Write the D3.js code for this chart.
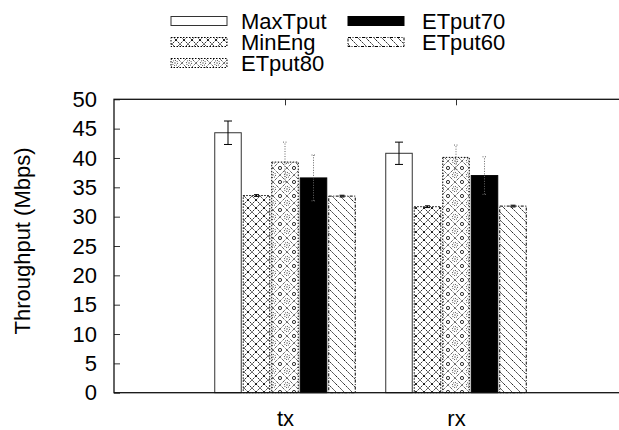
<!DOCTYPE html>
<html>
<head>
<meta charset="utf-8">
<script src="https://cdn.jsdelivr.net/npm/d3@7"></script>
<style>
  html, body { margin: 0; padding: 0; background: #fff; }
  svg { display: block; font-family: "Liberation Sans", Arial, sans-serif; }
</style>
</head>
<body>
<svg id="chart" width="619" height="430"></svg>
<script>
// Throughput per direction, one value per configuration
const categories = ["tx", "rx"];
const seriesNames = ["MaxTput", "MinEng", "ETput80", "ETput70", "ETput60"];
const maxTput = [44.3, 40.8];
const minEng  = [33.6, 31.7];
const etput80 = [39.3, 40.1];
const etput70 = [36.6, 37.0];
const etput60 = [33.5, 31.8];
// standard deviations (error bars)
const maxTputErr = [2.0, 1.9];
const minEngErr  = [0.15, 0.15];
const etput80Err = [3.4, 2.1];
const etput70Err = [3.9, 3.2];
const etput60Err = [0.15, 0.15];
const yTicks = [0, 5, 10, 15, 20, 25, 30, 35, 40, 45, 50];

const values = [maxTput, minEng, etput80, etput70, etput60];
const errors = [maxTputErr, minEngErr, etput80Err, etput70Err, etput60Err];

const svg = d3.select("#chart");
const plotLeft = 114, plotRight = 627, plotTop = 99.3, plotBottom = 392.7;
const fontSize = 22;

const x = d3.scaleLinear().domain([0, 3]).range([plotLeft, plotRight]);
const y = d3.scaleLinear().domain([0, 50]).range([plotBottom, plotTop]);

// ---- fill patterns ----
const defs = svg.append("defs");

// diamond crosshatch
const pCross = defs.append("pattern").attr("id", "pat-cross")
  .attr("patternUnits", "userSpaceOnUse").attr("width", 8).attr("height", 8);
pCross.append("rect").attr("width", 8).attr("height", 8).attr("fill", "#fff");
pCross.append("path").attr("d", "M0,0L8,8M8,0L0,8")
  .attr("stroke", "#000").attr("stroke-width", 0.9).attr("stroke-dasharray", "1.6,0.9");

// dotted diamonds with rings
const pOrn = defs.append("pattern").attr("id", "pat-orn")
  .attr("patternUnits", "userSpaceOnUse").attr("width", 14).attr("height", 14);
pOrn.append("rect").attr("width", 14).attr("height", 14).attr("fill", "#fff");
pOrn.append("path").attr("d", "M7,0L14,7L7,14L0,7Z")
  .attr("fill", "none").attr("stroke", "#000").attr("stroke-width", 0.9).attr("stroke-dasharray", "1,1");
pOrn.append("circle").attr("cx", 7).attr("cy", 7).attr("r", 2.6)
  .attr("fill", "none").attr("stroke", "#000").attr("stroke-width", 0.8).attr("stroke-dasharray", "1,1");
pOrn.append("rect").attr("x", 6.5).attr("y", 6.5).attr("width", 1).attr("height", 1).attr("fill", "#000");
[[0, 0], [14, 0], [0, 14], [14, 14]].forEach(([cx, cy]) => {
  pOrn.append("circle").attr("cx", cx).attr("cy", cy).attr("r", 1.6)
    .attr("fill", "none").attr("stroke", "#000").attr("stroke-width", 0.8);
});

// backslash diagonal lines
const pDiag = defs.append("pattern").attr("id", "pat-diag")
  .attr("patternUnits", "userSpaceOnUse").attr("width", 8).attr("height", 8);
pDiag.append("rect").attr("width", 8).attr("height", 8).attr("fill", "#fff");
pDiag.append("path").attr("d", "M0,0L8,8M-4,4L0,8M4,-4L8,0")
  .attr("stroke", "#222").attr("stroke-width", 1).attr("stroke-dasharray", "2,1");

const styles = [
  { fill: "#fff", stroke: "#333", dash: null },
  { fill: "url(#pat-cross)", stroke: "#000", dash: "1.5,1.5" },
  { fill: "url(#pat-orn)", stroke: "#000", dash: "1.5,1.5" },
  { fill: "#000", stroke: "#000", dash: null },
  { fill: "url(#pat-diag)", stroke: "#000", dash: "3,1.5,1,1.5" }
];
const errStyles = [
  { stroke: "#000", dash: null, cap: 4 },
  { stroke: "#000", dash: null, cap: 2.5 },
  { stroke: "#666", dash: "1,1.5", cap: 2 },
  { stroke: "#666", dash: "1,1.5", cap: 2 },
  { stroke: "#000", dash: null, cap: 2.5 }
];

// ---- axes ----
const yAxis = d3.axisLeft(y).tickValues(yTicks).tickSize(-6).tickPadding(17);
const gy = svg.append("g").attr("transform", `translate(${plotLeft},0)`).call(yAxis);
gy.select(".domain").remove();
gy.selectAll("line").attr("stroke", "#333");
gy.selectAll("text").attr("font-size", fontSize).attr("fill", "#000")
  .attr("font-family", "Liberation Sans, Arial, sans-serif");

const xAxis = d3.axisBottom(x).tickValues([1, 2]).tickFormat((d, i) => categories[i])
  .tickSize(-6).tickPadding(18);
const gx = svg.append("g").attr("transform", `translate(0,${plotBottom})`).call(xAxis);
gx.select(".domain").remove();
gx.selectAll("line").attr("stroke", "#333");
gx.selectAll("text").attr("font-size", fontSize).attr("fill", "#000")
  .attr("font-family", "Liberation Sans, Arial, sans-serif");

// mirrored ticks on top
const xTop = d3.axisTop(x).tickValues([1, 2]).tickSize(-6).tickFormat("");
const gt = svg.append("g").attr("transform", `translate(0,${plotTop})`).call(xTop);
gt.select(".domain").remove();
gt.selectAll("line").attr("stroke", "#333");

// ---- bars ----
const slot = 1 / 6;
const barW = 0.155;
const barsG = svg.append("g");
seriesNames.forEach((name, s) => {
  categories.forEach((c, i) => {
    const cx = (i + 1) + (s - 2) * slot;
    const x0 = x(cx - barW / 2), x1 = x(cx + barW / 2);
    const st = styles[s];
    barsG.append("rect")
      .attr("x", x0).attr("y", y(values[s][i]))
      .attr("width", x1 - x0).attr("height", y(0) - y(values[s][i]))
      .attr("fill", st.fill).attr("stroke", st.stroke).attr("stroke-width", 1)
      .attr("stroke-dasharray", st.dash);
  });
});

// ---- error bars ----
seriesNames.forEach((name, s) => {
  categories.forEach((c, i) => {
    const px = x((i + 1) + (s - 2) * slot);
    const v = values[s][i], e = errors[s][i];
    const es = errStyles[s];
    const g = svg.append("g").attr("stroke", es.stroke).attr("stroke-width", 1)
      .attr("stroke-dasharray", es.dash);
    g.append("line").attr("x1", px).attr("x2", px).attr("y1", y(v - e)).attr("y2", y(v + e));
    g.append("line").attr("x1", px - es.cap).attr("x2", px + es.cap).attr("y1", y(v + e)).attr("y2", y(v + e));
    g.append("line").attr("x1", px - es.cap).attr("x2", px + es.cap).attr("y1", y(v - e)).attr("y2", y(v - e));
  });
});

// ---- frame ----
svg.append("rect").attr("x", plotLeft).attr("y", plotTop)
  .attr("width", plotRight - plotLeft).attr("height", plotBottom - plotTop)
  .attr("fill", "none").attr("stroke", "#111").attr("stroke-width", 1.3);

// ---- y label ----
svg.append("text")
  .attr("transform", `translate(30,${(plotTop + plotBottom) / 2 - 5}) rotate(-90)`)
  .attr("text-anchor", "middle").attr("font-size", fontSize)
  .text("Throughput (Mbps)");

// ---- legend ----
const legendPos = [
  { sx: 171, tx: 241, cy: 21 },
  { sx: 171, tx: 241, cy: 42 },
  { sx: 171, tx: 241, cy: 63 },
  { sx: 348, tx: 422, cy: 21 },
  { sx: 348, tx: 422, cy: 42 }
];
seriesNames.forEach((name, s) => {
  const p = legendPos[s], st = styles[s];
  svg.append("rect").attr("x", p.sx).attr("y", p.cy - 4.5).attr("width", 56).attr("height", 9)
    .attr("fill", st.fill).attr("stroke", st.stroke).attr("stroke-width", 1)
    .attr("stroke-dasharray", st.dash);
  svg.append("text").attr("x", p.tx).attr("y", p.cy).attr("dy", "0.36em")
    .attr("font-size", fontSize).text(name);
});
</script>
</body>
</html>
